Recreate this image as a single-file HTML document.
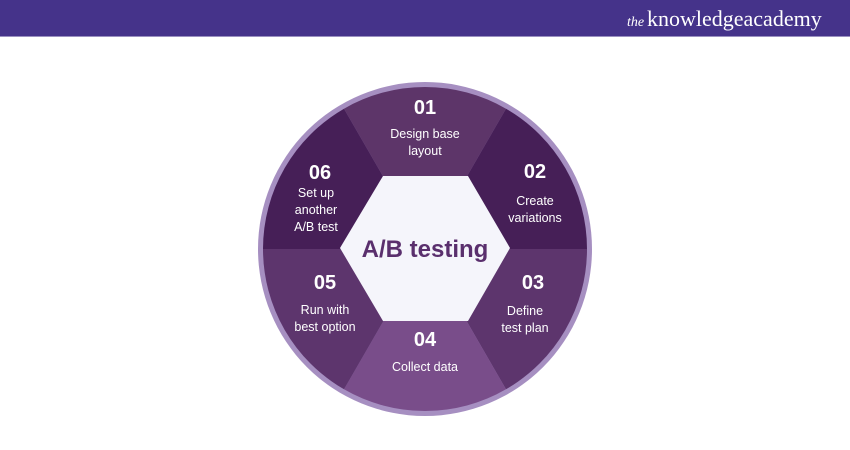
<!DOCTYPE html>
<html><head><meta charset="utf-8"><style>
html,body{margin:0;padding:0;background:#fff;}
svg{display:block;}
</style></head><body>
<svg width="850" height="450" viewBox="0 0 850 450" xmlns="http://www.w3.org/2000/svg" font-family="Liberation Sans, sans-serif">
<rect x="0" y="0" width="850" height="36" fill="#45338a"/>
<rect x="0" y="36" width="850" height="1" fill="#9a90c0"/>
<text x="627" y="26" font-family="Liberation Serif, serif" font-style="italic" font-size="14" fill="#fff">the</text>
<text x="647" y="26" font-family="Liberation Serif, serif" font-size="22" fill="#fff">knowledgeacademy</text>
<circle cx="425" cy="249" r="167" fill="#a68fc1"/>
<path d="M425 249 L344 108.7 A162 162 0 0 1 506 108.7 Z" fill="#5d3569"/>
<path d="M425 249 L506 108.7 A162 162 0 0 1 587 249 Z" fill="#461f57"/>
<path d="M425 249 L587 249 A162 162 0 0 1 506 389.3 Z" fill="#5d356d"/>
<path d="M425 249 L506 389.3 A162 162 0 0 1 344 389.3 Z" fill="#794d8a"/>
<path d="M425 249 L344 389.3 A162 162 0 0 1 263 249 Z" fill="#5d356d"/>
<path d="M425 249 L263 249 A162 162 0 0 1 344 108.7 Z" fill="#461f57"/>
<polygon points="340,248 383,176 468,176 510,248 468,321 383,321" fill="#f5f5fb"/>
<text x="425" y="257" text-anchor="middle" font-size="24" font-weight="bold" fill="#5a2f6d">A/B testing</text>
<g fill="#fff" text-anchor="middle">
<g font-size="20" font-weight="bold">
<text x="425" y="114">01</text>
<text x="535" y="178">02</text>
<text x="533" y="289">03</text>
<text x="425" y="346">04</text>
<text x="325" y="289">05</text>
<text x="320" y="179">06</text>
</g>
<g font-size="12.5">
<text x="425" y="138">Design base</text>
<text x="425" y="155">layout</text>
<text x="535" y="205">Create</text>
<text x="535" y="222">variations</text>
<text x="525" y="315">Define</text>
<text x="525" y="332">test plan</text>
<text x="425" y="371">Collect data</text>
<text x="325" y="314">Run with</text>
<text x="325" y="331">best option</text>
<text x="316" y="197">Set up</text>
<text x="316" y="214">another</text>
<text x="316" y="231">A/B test</text>
</g>
</g>
</svg>
</body></html>
